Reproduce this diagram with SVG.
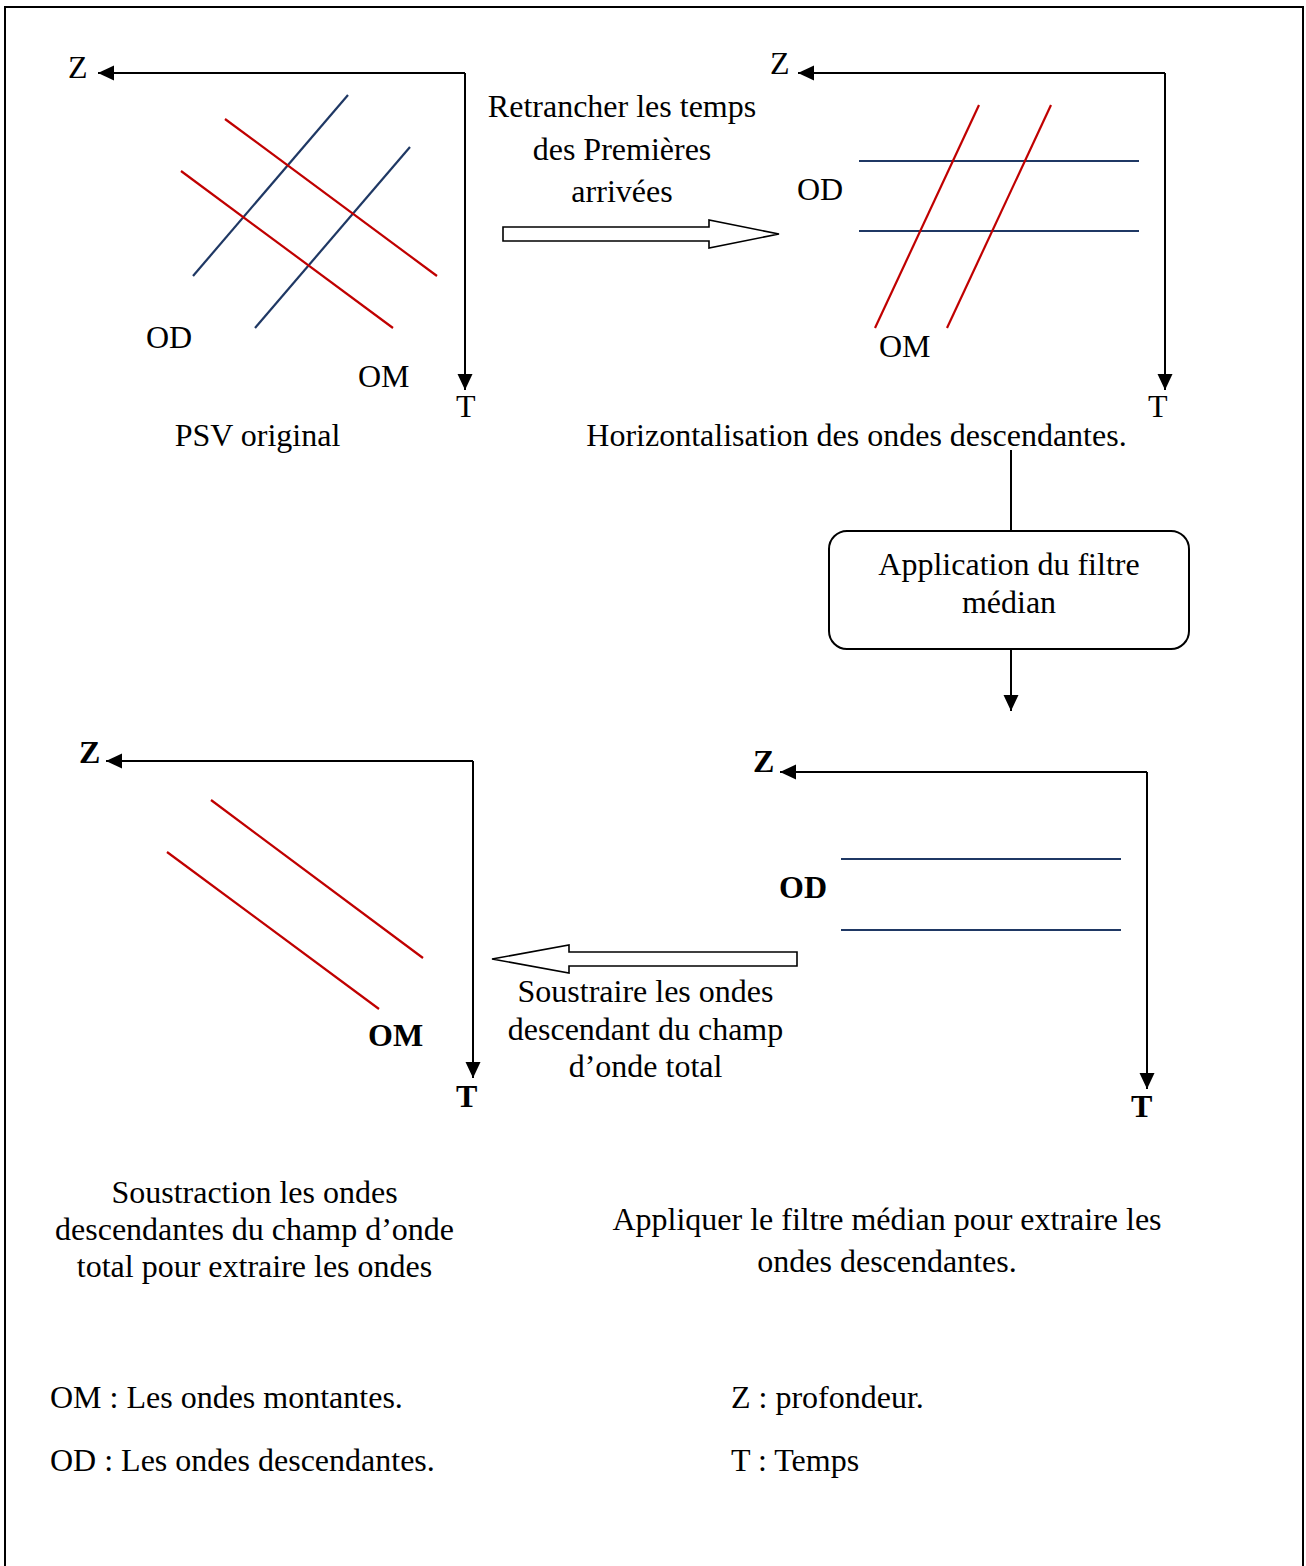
<svg xmlns="http://www.w3.org/2000/svg" width="1306" height="1566" viewBox="0 0 1306 1566">
  <style>
    text { font-family: "Liberation Serif", "Times New Roman", serif; font-size: 32px; fill: #000; }
    .c { text-anchor: middle; }
    .b { font-weight: bold; }
    .axis { stroke: #000; stroke-width: 2; fill: none; marker-end: url(#head); }
    .od { stroke: #1f3864; stroke-width: 2.2; fill: none; }
    .om { stroke: #c00000; stroke-width: 2.2; fill: none; }
    .block { fill: #fff; stroke: #000; stroke-width: 1.6; stroke-linejoin: miter; }
    .link { stroke: #000; stroke-width: 2; fill: none; }
  </style>
  <defs>
    <marker id="head" markerUnits="userSpaceOnUse" markerWidth="17" markerHeight="16" refX="16" refY="8" orient="auto">
      <path d="M0,0.5 L16,8 L0,15.5 z" fill="#000"/>
    </marker>
  </defs>

  <rect width="1306" height="1566" fill="#fff"/>
  <!-- page frame (open at the bottom) -->
  <path d="M5,1566 V7 H1303 V1566" fill="none" stroke="#000" stroke-width="2"/>

  <!-- panel 1: original VSP -->
  <g id="panel-psv-original">
    <path class="axis" d="M465,73 H98"/>
    <path class="axis" d="M465,73 V390"/>
    <text x="68" y="78">Z</text>
    <text x="456" y="417">T</text>
    <line class="od" x1="348" y1="95" x2="193" y2="276"/>
    <line class="od" x1="410" y1="147" x2="255" y2="328"/>
    <line class="om" x1="225" y1="119" x2="437" y2="276"/>
    <line class="om" x1="181" y1="171" x2="393" y2="328"/>
    <text x="146" y="348">OD</text>
    <text x="358" y="387">OM</text>
    <text class="c" x="257.5" y="446">PSV original</text>
  </g>

  <!-- panel 2: flattened downgoing waves -->
  <g id="panel-horizontalisation">
    <path class="axis" d="M1165,73 H798"/>
    <path class="axis" d="M1165,73 V390"/>
    <text x="770" y="74">Z</text>
    <text x="1148" y="417">T</text>
    <line class="od" x1="859" y1="161" x2="1139" y2="161"/>
    <line class="od" x1="859" y1="231" x2="1139" y2="231"/>
    <line class="om" x1="979" y1="105" x2="875" y2="328"/>
    <line class="om" x1="1051" y1="105" x2="947" y2="328"/>
    <text x="797" y="200">OD</text>
    <text x="879" y="357">OM</text>
    <text class="c" x="856.5" y="446">Horizontalisation des ondes descendantes.</text>
  </g>

  <!-- median filter step -->
  <g id="box-filtre-median">
    <rect x="829" y="531" width="360" height="118" rx="18" ry="18" fill="#fff" stroke="#000" stroke-width="2"/>
    <text class="c" x="1009" y="575">Application du filtre</text>
    <text class="c" x="1009" y="613">médian</text>
  </g>

  <!-- panel 3: filtered downgoing waves -->
  <g id="panel-ondes-descendantes">
    <path class="axis" d="M1147,772 H780"/>
    <path class="axis" d="M1147,772 V1089"/>
    <text class="b" x="753" y="772">Z</text>
    <text class="b" x="1131" y="1117">T</text>
    <line class="od" x1="841" y1="859" x2="1121" y2="859"/>
    <line class="od" x1="841" y1="930" x2="1121" y2="930"/>
    <text class="b" x="779" y="898">OD</text>
  </g>

  <!-- panel 4: upgoing waves after subtraction -->
  <g id="panel-ondes-montantes">
    <path class="axis" d="M473,761 H106"/>
    <path class="axis" d="M473,761 V1078"/>
    <text class="b" x="79" y="763">Z</text>
    <text class="b" x="456" y="1107">T</text>
    <line class="om" x1="211" y1="800" x2="423" y2="958"/>
    <line class="om" x1="167" y1="852" x2="379" y2="1009"/>
    <text class="b" x="368" y="1046">OM</text>
  </g>

  <!-- connectors -->
  <g id="connectors">
    <!-- first-arrival time removal -->
    <path class="block" d="M503,227 H709 V220 L779,234 L709,248 V241 H503 z"/>
    <text class="c" x="622" y="117">Retrancher les temps</text>
    <text class="c" x="622" y="160">des Premières</text>
    <text class="c" x="622" y="202">arrivées</text>

    <line class="link" x1="1011" y1="450" x2="1011" y2="531"/>
    <path class="axis" d="M1011,649 V711"/>

    <!-- subtraction from the total wavefield -->
    <path class="block" d="M797,952 H569 V945 L492,959 L569,973 V966 H797 z"/>
    <text class="c" x="645.5" y="1002">Soustraire les ondes</text>
    <text class="c" x="645.5" y="1040">descendant du champ</text>
    <text class="c" x="645.5" y="1077">d’onde total</text>
  </g>

  <!-- captions -->
  <g id="captions">
    <text class="c" x="254.5" y="1203">Soustraction les ondes</text>
    <text class="c" x="254.5" y="1240">descendantes du champ d’onde</text>
    <text class="c" x="254.5" y="1277">total pour extraire les ondes</text>
    <text class="c" x="887" y="1230">Appliquer le filtre médian pour extraire les</text>
    <text class="c" x="887" y="1272">ondes descendantes.</text>
  </g>

  <!-- legend -->
  <g id="legend">
    <text x="50" y="1408">OM : Les ondes montantes.</text>
    <text x="50" y="1471">OD : Les ondes descendantes.</text>
    <text x="731" y="1408">Z : profondeur.</text>
    <text x="731" y="1471">T : Temps</text>
  </g>
</svg>
